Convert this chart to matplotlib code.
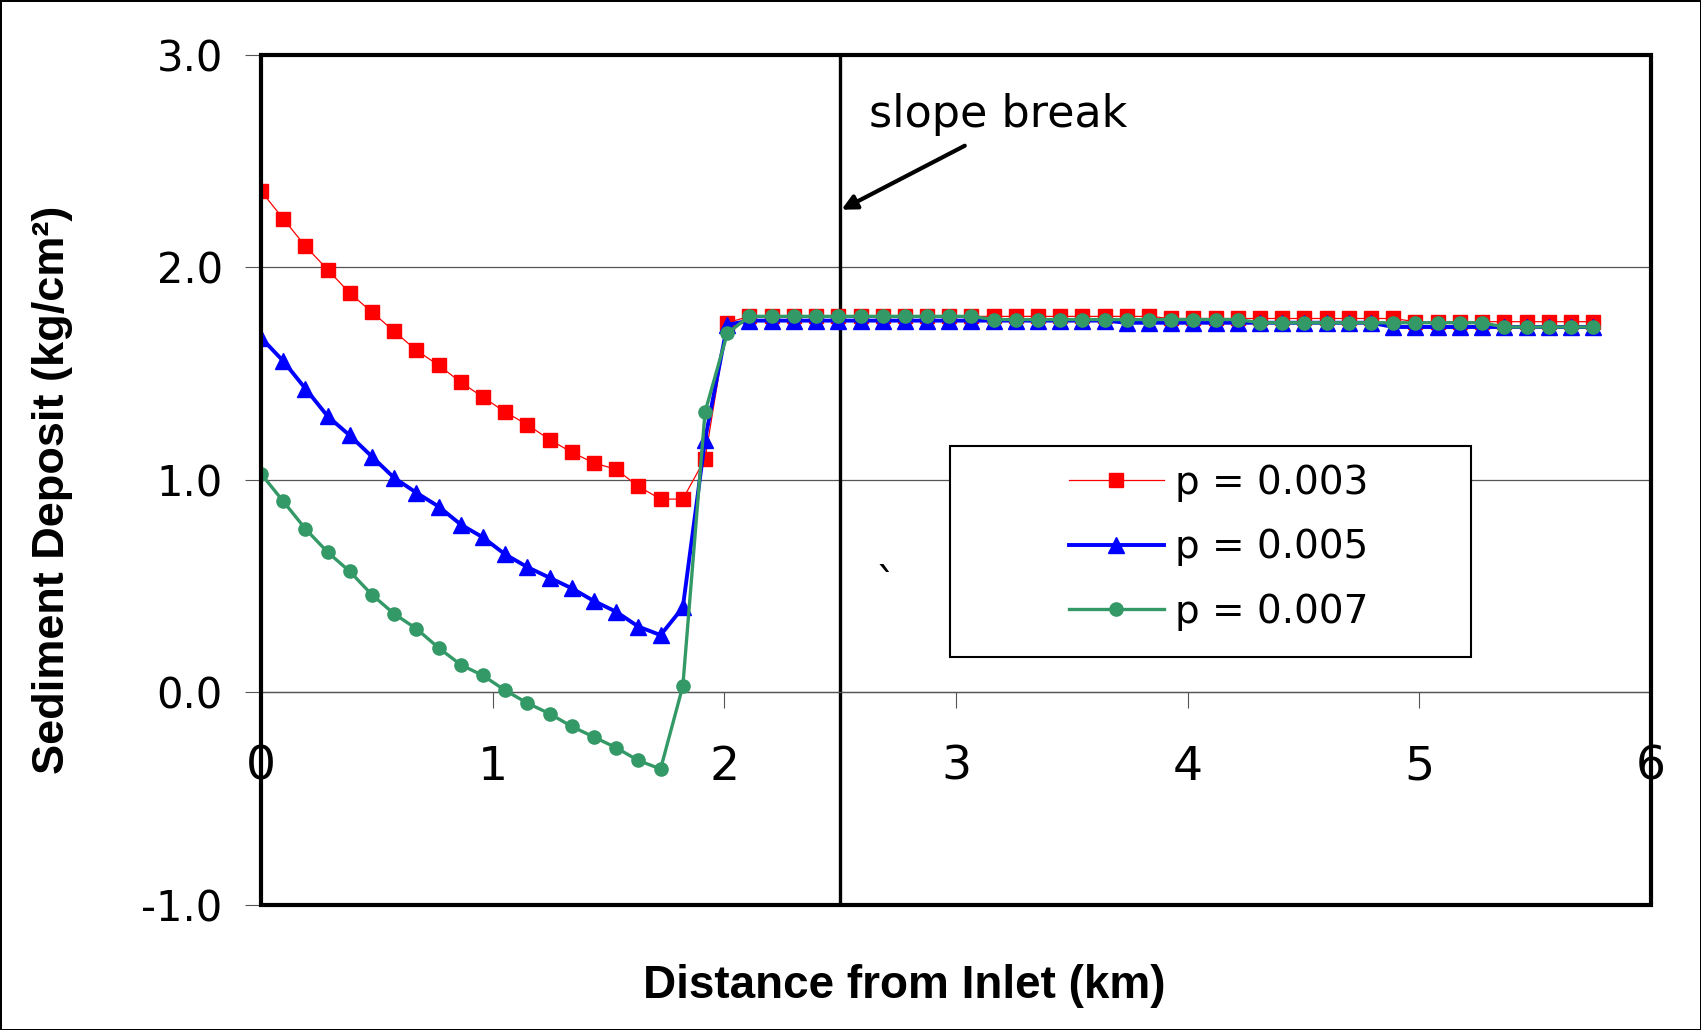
import matplotlib
matplotlib.use('Agg')
import matplotlib.pyplot as plt
from matplotlib.patches import Rectangle

# distance from inlet (km), 61 stations
dist_km = [0.000, 0.096, 0.192, 0.288, 0.383, 0.479, 0.575, 0.671, 0.767, 0.863,
           0.958, 1.054, 1.150, 1.246, 1.342, 1.438, 1.533, 1.629, 1.725, 1.821,
           1.917, 2.013, 2.108, 2.204, 2.300, 2.396, 2.492, 2.588, 2.683, 2.779,
           2.875, 2.971, 3.067, 3.163, 3.258, 3.354, 3.450, 3.546, 3.642, 3.738,
           3.833, 3.929, 4.025, 4.121, 4.217, 4.313, 4.408, 4.504, 4.600, 4.696,
           4.792, 4.888, 4.983, 5.079, 5.175, 5.271, 5.367, 5.463, 5.558, 5.654,
           5.750]

dep_p003 = [2.36, 2.23, 2.10, 1.99, 1.88, 1.79, 1.70, 1.61, 1.54, 1.46,
            1.39, 1.32, 1.26, 1.19, 1.13, 1.08, 1.05, 0.97, 0.91, 0.91,
            1.10, 1.74, 1.77, 1.77, 1.77, 1.77, 1.77, 1.77, 1.77, 1.77,
            1.77, 1.77, 1.77, 1.77, 1.77, 1.77, 1.77, 1.77, 1.77, 1.77,
            1.77, 1.76, 1.76, 1.76, 1.76, 1.76, 1.76, 1.76, 1.76, 1.76,
            1.76, 1.76, 1.745, 1.745, 1.745, 1.745, 1.745, 1.745, 1.745, 1.745,
            1.745]

dep_p005 = [1.67, 1.56, 1.43, 1.30, 1.21, 1.11, 1.01, 0.94, 0.875, 0.79,
            0.73, 0.65, 0.59, 0.54, 0.49, 0.43, 0.38, 0.31, 0.27, 0.40,
            1.19, 1.73, 1.75, 1.75, 1.75, 1.75, 1.75, 1.75, 1.75, 1.75,
            1.75, 1.75, 1.75, 1.75, 1.75, 1.75, 1.75, 1.75, 1.75, 1.74,
            1.74, 1.74, 1.74, 1.74, 1.74, 1.74, 1.74, 1.74, 1.74, 1.74,
            1.74, 1.72, 1.72, 1.72, 1.72, 1.72, 1.72, 1.72, 1.72, 1.72,
            1.72]

dep_p007 = [1.03, 0.90, 0.77, 0.66, 0.57, 0.46, 0.37, 0.30, 0.21, 0.13,
            0.08, 0.01, -0.05, -0.10, -0.16, -0.21, -0.26, -0.32, -0.36, 0.03,
            1.32, 1.69, 1.77, 1.77, 1.77, 1.77, 1.77, 1.77, 1.77, 1.77,
            1.77, 1.77, 1.77, 1.755, 1.755, 1.755, 1.755, 1.755, 1.755, 1.755,
            1.755, 1.755, 1.755, 1.755, 1.755, 1.74, 1.74, 1.74, 1.74, 1.74,
            1.74, 1.74, 1.74, 1.74, 1.74, 1.74, 1.72, 1.72, 1.72, 1.72,
            1.72]

x_ticks = [0, 1, 2, 3, 4, 5, 6]
y_ticks = [-1.0, 0.0, 1.0, 2.0, 3.0]
slope_break_km = 2.5

plt.rcParams['font.family'] = 'DejaVu Sans'

fig = plt.figure(figsize=(17.01, 10.30), dpi=100)
fig.patch.set_edgecolor('black')
fig.patch.set_linewidth(2)
ax = fig.add_axes([0.1534, 0.1214, 0.8172, 0.8252])

ax.plot(dist_km, dep_p003, color='#FF0000', lw=0.9, marker='s', ms=10,
        label='p = 0.003', zorder=3)
ax.plot(dist_km, dep_p005, color='#0000FF', lw=2.8, marker='^', ms=12,
        label='p = 0.005', zorder=4)
ax.plot(dist_km, dep_p007, color='#339966', lw=2.4, marker='o', ms=9.5,
        label='p = 0.007', zorder=5)

ax.axvline(slope_break_km, color='black', lw=2.4, zorder=2)

# x axis sits on the zero line, box drawn separately
for s in ['left', 'right', 'top']:
    ax.spines[s].set_visible(False)
ax.spines['bottom'].set_position(('data', 0))
ax.spines['bottom'].set_color('#555555')
ax.spines['bottom'].set_linewidth(0.9)

ax.set_xlim(0, 6)
ax.set_ylim(-1, 3)
ax.set_xticks(x_ticks)
ax.set_xticklabels([str(v) for v in x_ticks])
ax.set_yticks(y_ticks)
ax.set_yticklabels([f'{v:.1f}' for v in y_ticks])
ax.yaxis.grid(True, color='#555555', lw=0.9)
ax.set_axisbelow(True)
ax.tick_params(axis='x', direction='out', length=11.5, width=0.8,
               color='#555555', pad=26, labelsize=34)
ax.tick_params(axis='y', direction='out', length=11.5, width=0.8,
               color='#555555', pad=16, labelsize=30)
ax.add_patch(Rectangle((0, 0), 1, 1, transform=ax.transAxes, fill=False,
                       edgecolor='black', lw=3, clip_on=False, zorder=10))

ax.annotate('', xy=(2.506, 2.272), xytext=(3.038, 2.573),
            arrowprops=dict(arrowstyle='-|>', color='black', lw=3,
                            mutation_scale=22, shrinkA=0, shrinkB=0))
ax.text(2.624, 2.661, 'slope break', fontsize=32, va='baseline', ha='left')
ax.text(2.70, 0.50, '`', fontsize=30, ha='center', va='center')

# legend box
ax.add_patch(Rectangle((0.4957, 0.2918), 0.3748, 0.2482, transform=ax.transAxes,
                       facecolor='white', edgecolor='black', lw=1.5, zorder=6))
leg = ax.legend(loc='center', bbox_to_anchor=(0.689, 0.421), frameon=False,
                fontsize=28, numpoints=1, handlelength=2.44, handletextpad=0.3,
                labelspacing=0.68, borderpad=0)
leg.set_zorder(7)

fig.text(904 / 1701, 1 - 998 / 1030, 'Distance from Inlet (km)',
         fontsize=33, fontweight='bold', family='Liberation Sans',
         ha='center', va='baseline')
fig.text(53 / 1701, 1 - 490 / 1030, 'Sediment Deposit (kg/cm²)',
         fontsize=32.5, fontweight='bold', family='Liberation Sans',
         rotation=90, ha='center', va='center')

fig.savefig('out.png', dpi=100, edgecolor=fig.get_edgecolor())
